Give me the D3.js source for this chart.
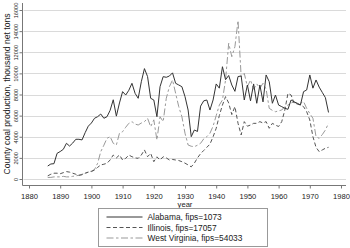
<!DOCTYPE html>
<html>
<head>
<meta charset="utf-8">
<script src="https://cdn.jsdelivr.net/npm/d3@7"></script>
<style>
  body { margin: 0; background: #fff; }
  text { font-family: "Liberation Sans", Arial, sans-serif; fill: #222; }
</style>
</head>
<body>
<div id="chart"></div>
<script>
// county coal production, thousand net tons, 1886-1976
const years = d3.range(1886, 1977);

const alabama = [
  1230, 1420, 1450, 2430, 2600, 2810, 3380, 3120, 3400, 3760,
  3760, 3700, 4390, 5000, 5300, 5750, 5900, 6150, 5750, 5900,
  6500, 7500, 5950, 7200, 8270, 7950, 8400, 9060, 8110, 7640,
  9210, 10450, 9700, 7640, 7480, 5900, 8740, 9690, 9630, 9750,
  10050, 9060, 8900, 8740, 7800, 6530, 4010, 4640, 4500, 6900,
  7400, 7480, 6530, 7480, 9000, 8600, 10630, 9400, 9800, 8900,
  8300, 9700, 9750, 7480, 8900, 7400, 9000, 7170, 8900, 7300,
  9850, 9210, 7170, 7950, 7000, 6850, 6690, 6600, 7480, 7300,
  7170, 7010, 8270, 8430, 9850, 8600, 9375, 8700, 8200, 7700,
  6300
];

const illinois = [
  300, 450, 550, 550, 500, 600, 700, 650, 550, 450,
  350, 400, 550, 650, 700, 850, 1100, 1330, 1400, 1490,
  1800, 2270, 2000, 2270, 1800, 1960, 2270, 2110, 2000, 1960,
  2270, 2750, 2110, 2430, 1640, 2100, 1800, 2110, 2000, 1800,
  1850, 1800, 1750, 1640, 1500, 1330, 1150, 1500, 2000, 2400,
  2700, 3000, 3300, 4000, 4800, 6000, 7000, 7800, 7200, 6100,
  6850, 5270, 4170, 5430, 5000, 5110, 5270, 5270, 5430, 5300,
  5430, 4800, 5270, 5100, 4970, 5430, 6530, 8110, 7950, 7170,
  7100, 7000, 6850, 6370, 5590, 4010, 3000, 2590, 2750, 2910,
  3000
];

const westVirginia = [
  150, 150, 200, 200, 200, 250, 200, 200, 250, 300,
  350, 450, 550, 650, 750, 900, 1490, 2590, 3200, 3850,
  4010, 3380, 3220, 4330, 4480, 4900, 5270, 5430, 5200, 5110,
  5300, 5430, 5750, 4950, 5600, 3690, 5900, 5430, 7640, 8740,
  9375, 8110, 6850, 5900, 4330, 3220, 3100, 3060, 3200, 3380,
  3800, 4010, 4330, 5000, 6000, 7000, 7480, 9375, 12850, 11580,
  12530, 15000, 9690, 10000, 8740, 9375, 8500, 9000, 8600, 9060,
  8500, 6690, 6500, 6370, 6450, 6530, 6850, 7000, 7200, 7300,
  7100, 7170, 7330, 6690, 6200, 5750, 4010, 3850, 4200, 4640,
  5270
];

const seriesNames = ["Alabama, fips=1073", "Illinois, fips=17057", "West Virginia, fips=54033"];
const xTicks = d3.range(1880, 1981, 10);
const yTicks = d3.range(0, 16001, 2000);

var width = 350,
    height = 248;

var svg = d3.select("#chart").append("svg")
    .attr("width", width)
    .attr("height", height);

var x = d3.scaleLinear()
    .domain([1880, 1980])
    .range([29, 341]);

var y = d3.scaleLinear()
    .domain([0, 16000])
    .range([179, 10]);

var plotLeft = 22.5,
    plotRight = 346,
    plotBottom = 185.5;

// gridlines
svg.append("g")
  .selectAll("line")
  .data(yTicks)
  .join("line")
    .attr("x1", plotLeft + 1)
    .attr("x2", plotRight)
    .attr("y1", d => Math.round(y(d)) + 0.5)
    .attr("y2", d => Math.round(y(d)) + 0.5)
    .attr("stroke", "#dadada")
    .attr("stroke-width", 1);

var xAxis = d3.axisBottom(x)
    .tickValues(xTicks)
    .tickSize(3)
    .tickSizeOuter(0)
    .tickFormat(d3.format("d"));

var yAxis = d3.axisLeft(y)
    .tickValues(yTicks)
    .tickSize(3)
    .tickSizeOuter(0)
    .tickFormat(d => d);

svg.append("g")
    .attr("transform", "translate(0," + plotBottom + ")")
    .call(xAxis)
    .call(g => g.select(".domain").attr("d", `M${plotLeft},0H${plotRight}`).attr("stroke", "#777"))
    .call(g => g.selectAll(".tick line").attr("stroke", "#777"))
    .call(g => g.selectAll(".tick text")
      .attr("y", 8)
      .attr("font-size", "7.6px")
      .attr("font-family", "Liberation Sans, Arial, sans-serif")
      .attr("fill", "#222"));

svg.append("g")
    .attr("transform", "translate(" + plotLeft + ",0)")
    .call(yAxis)
    .call(g => g.select(".domain").attr("d", `M0,3V${plotBottom}`).attr("stroke", "#777"))
    .call(g => g.selectAll(".tick line").attr("stroke", "#777"))
    .call(g => g.selectAll(".tick text")
      .attr("x", null)
      .attr("dy", null)
      .attr("text-anchor", "middle")
      .attr("transform", "translate(-5,0) rotate(-90)")
      .attr("font-size", "5.6px")
      .attr("font-family", "Liberation Sans, Arial, sans-serif")
      .attr("fill", "#333"));

// axis titles
svg.append("text")
    .attr("transform", "translate(9.5," + 94 + ") rotate(-90)")
    .attr("text-anchor", "middle")
    .attr("font-size", "8.6px")
    .text("County coal production, thousand net tons");

svg.append("text")
    .attr("x", (x(1880) + x(1980)) / 2)
    .attr("y", 206.5)
    .attr("text-anchor", "middle")
    .attr("font-size", "7.6px")
    .text("year");

var styles = [
  { values: alabama, stroke: "#333", dash: null },
  { values: illinois, stroke: "#555", dash: "4,2.5" },
  { values: westVirginia, stroke: "#999", dash: "7,2.5,2.5,2.5" }
];

var line = d3.line()
    .x((_, i) => x(years[i]))
    .y(d => y(d));

svg.append("g")
  .selectAll("path")
  .data(styles.slice().reverse())
  .join("path")
    .attr("fill", "none")
    .attr("stroke", d => d.stroke)
    .attr("stroke-width", 1)
    .attr("stroke-dasharray", d => d.dash)
    .attr("d", d => line(d.values));

// legend
var legend = svg.append("g")
    .attr("transform", "translate(98.5,208.5)");

legend.append("rect")
    .attr("width", 169)
    .attr("height", 38)
    .attr("fill", "#fff")
    .attr("stroke", "#999");

var rows = legend.selectAll("g")
    .data(styles)
    .join("g")
    .attr("transform", (_, i) => "translate(0," + (8.5 + i * 10.5) + ")");

rows.append("line")
    .attr("x1", 8)
    .attr("x2", 44)
    .attr("stroke", d => d.stroke)
    .attr("stroke-dasharray", d => d.dash);

rows.append("text")
    .attr("x", 49)
    .attr("y", 3)
    .attr("font-size", "8.4px")
    .text((_, i) => seriesNames[i]);
</script>
</body>
</html>
